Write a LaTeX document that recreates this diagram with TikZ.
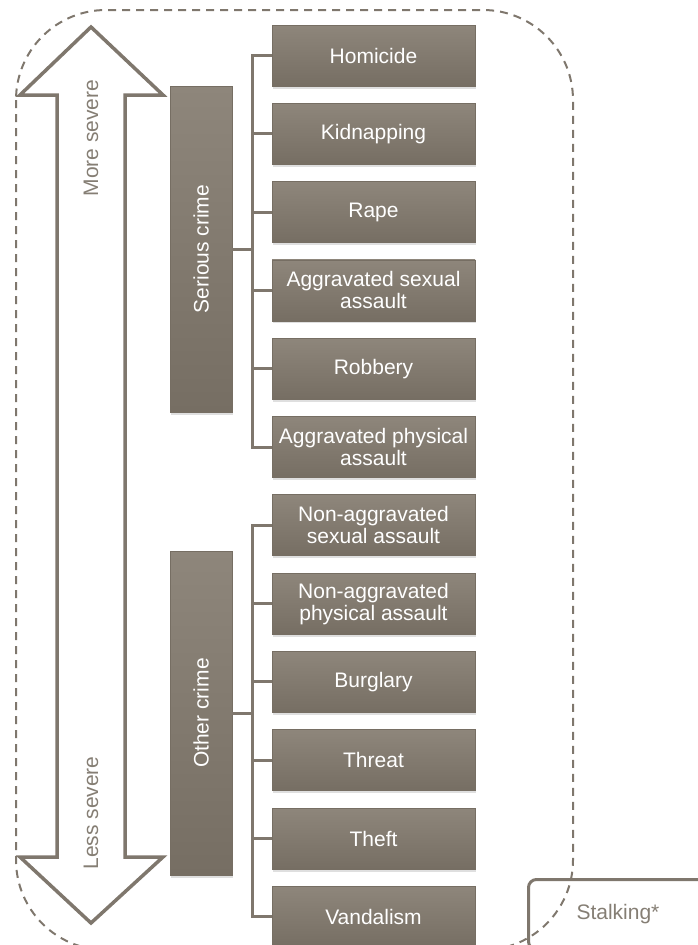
\documentclass[tikz,border=0pt]{standalone}
\usepackage{fontspec}
\setmainfont{Liberation Sans}
\usetikzlibrary{positioning,shadows}
\definecolor{TaupeHi}{HTML}{8E867B}
\definecolor{TaupeLo}{HTML}{766E63}
\definecolor{Stone}{HTML}{7F776D}
\definecolor{Quiet}{HTML}{857E74}
\tikzset{
  crime/.style={rectangle,draw=TaupeLo,line width=0.8pt,top color=TaupeHi,bottom color=TaupeLo,text=white,font=\fontsize{21}{22}\selectfont,align=center,minimum width=203pt,minimum height=61pt,inner sep=2pt,drop shadow={opacity=0.25,shadow xshift=1pt,shadow yshift=-2.5pt}},
  grp/.style={crime,minimum width=62pt},
  link/.style={draw=Stone,line width=3pt},
  sev/.style={draw=Stone,line width=3.5pt,line join=miter},
  rim/.style={draw=Stone,line width=2pt,dash pattern=on 8pt off 6pt},
  lbl/.style={font=\fontsize{21}{22}\selectfont,text=Quiet},
}
\begin{document}
\begin{tikzpicture}[x=1pt,y=-1pt]
\useasboundingbox (0,0) rectangle (698,945);
% -outer frame-
\draw[rim,rounded corners=90pt] (16,10) rectangle (573,950);
% -severity arrow-
\draw[sev] (91,27) -- (163,95) -- (125,95) -- (125,857) -- (163,857) -- (91,923) -- (20,857) -- (57,857) -- (57,95) -- (20,95) -- cycle;
\node[lbl,rotate=90] (more) at (91,138) {More severe};
\node[lbl,rotate=90] (less) at (91,813) {Less severe};
% -serious crime-
\node[crime] (hom) at (373.5,55.5) {Homicide};
\node[crime,below=16.5pt of hom] (kid) {Kidnapping};
\node[crime,below=16.5pt of kid] (rape) {Rape};
\node[crime,below=16.5pt of rape] (aggsex) {Aggravated sexual\\assault};
\node[crime,below=16.5pt of aggsex] (rob) {Robbery};
\node[crime,below=16.5pt of rob] (aggphys) {Aggravated physical\\assault};
\node[grp,minimum height=326pt] (serious) at (201,249) {\rotatebox{90}{Serious crime}};
\draw[link] (serious.east) -- ++(20,0) |- (hom.west); \draw[link] (serious.east) -- ++(20,0) |- (kid.west);
\draw[link] (serious.east) -- ++(20,0) |- (rape.west); \draw[link] (serious.east) -- ++(20,0) |- (aggsex.west);
\draw[link] (serious.east) -- ++(20,0) |- (rob.west); \draw[link] (serious.east) -- ++(20,0) |- (aggphys.west);
% -other crime-
\node[crime,below=16.5pt of aggphys] (nasex) {Non-aggravated\\sexual assault};
\node[crime,below=16.5pt of nasex] (naphys) {Non-aggravated\\physical assault};
\node[crime,below=16.5pt of naphys] (burg) {Burglary};
\node[crime,below=16.5pt of burg] (threat) {Threat};
\node[crime,below=16.5pt of threat] (theft) {Theft};
\node[crime,below=16.5pt of theft] (vand) {Vandalism};
\node[grp,minimum height=324pt] (other) at (201,713) {\rotatebox{90}{Other crime}};
\draw[link] (other.east) -- ++(20,0) |- (nasex.west); \draw[link] (other.east) -- ++(20,0) |- (naphys.west);
\draw[link] (other.east) -- ++(20,0) |- (burg.west); \draw[link] (other.east) -- ++(20,0) |- (threat.west);
\draw[link] (other.east) -- ++(20,0) |- (theft.west); \draw[link] (other.east) -- ++(20,0) |- (vand.west);
% -stalking-
\node[lbl,draw=Stone,line width=3pt,rounded corners=8pt,anchor=north west,text width=120pt,align=left,inner xsep=48pt,minimum height=70pt] (stalk) at (527,878) {Stalking*};
\end{tikzpicture}
\end{document}
